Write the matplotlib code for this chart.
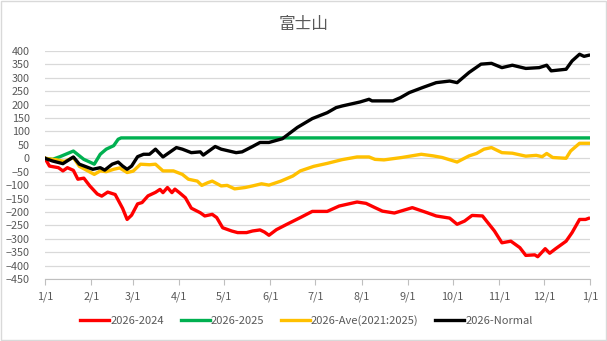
import numpy as np
import matplotlib.pyplot as plt
from matplotlib.patches import Rectangle

plt.rcParams['font.family'] = ['Noto Sans CJK JP', 'DejaVu Sans']

# day of year (0 = 1/1) and cumulative difference values
red_day = [0, 3, 9, 12, 15, 19, 22, 26, 30, 35, 38, 42, 47, 52, 55, 58, 62, 65, 69, 74,
           77, 79, 82, 85, 87, 90, 94, 98, 104, 107, 112, 115, 119, 125, 129, 135, 139,
           144, 147, 150, 155, 162, 171, 179, 189, 197, 209, 215, 221, 226, 234, 246,
           256, 262, 271, 276, 281, 286, 293, 296, 301, 306, 312, 318, 322, 328, 330,
           335, 338, 342, 349, 353, 358, 362, 364]
red_val = [0, -29, -35, -47, -35, -45, -78, -74, -103, -133, -141, -126, -135, -187,
           -228, -212, -170, -165, -140, -127, -116, -128, -109, -128, -115, -128, -147,
           -186, -203, -215, -209, -221, -259, -271, -277, -277, -271, -267, -275, -287,
           -266, -246, -221, -198, -198, -178, -163, -168, -184, -197, -204, -184, -203,
           -215, -223, -246, -234, -213, -215, -236, -271, -315, -309, -333, -362, -360,
           -367, -337, -354, -337, -309, -277, -228, -228, -224]

green_day = [0, 5, 10, 19, 26, 30, 33, 37, 41, 46, 49, 51, 364]
green_val = [0, -4, 6, 27, -4, -14, -22, 15, 34, 47, 71, 76, 76]

ave_day = [0, 8, 13, 19, 23, 33, 37, 41, 46, 50, 55, 59, 64, 70, 74, 79, 86, 92, 96, 102,
           105, 109, 112, 118, 122, 127, 134, 139, 145, 150, 158, 166, 171, 180, 189, 199,
           209, 217, 221, 227, 239, 252, 260, 266, 276, 284, 289, 294, 299, 306, 313, 322,
           329, 333, 336, 340, 349, 352, 358, 364]
ave_val = [0, -6, -12, 3, -30, -60, -47, -50, -41, -36, -53, -48, -22, -24, -22, -47, -47,
           -60, -78, -85, -101, -91, -85, -103, -101, -114, -109, -103, -95, -100, -85, -66,
           -47, -30, -19, -5, 5, 5, -4, -6, 3, 15, 9, 3, -14, 9, 18, 34, 40, 21, 19, 8, 11,
           6, 18, 3, 0, 27, 56, 56]

normal_day = [0, 5, 12, 19, 23, 32, 37, 40, 45, 49, 52, 55, 58, 62, 66, 70, 74, 79, 88, 92,
              98, 104, 106, 114, 118, 128, 132, 139, 144, 150, 159, 169, 179, 189, 195, 199,
              211, 217, 219, 233, 238, 244, 253, 262, 271, 276, 284, 292, 299, 306, 313,
              322, 331, 336, 339, 349, 353, 358, 361, 364]
normal_val = [0, -10, -20, 5, -22, -41, -35, -44, -22, -14, -29, -41, -29, 6, 15, 15, 34, 5,
              40, 34, 21, 24, 12, 44, 34, 21, 24, 44, 59, 59, 73, 115, 148, 170, 189, 195,
              210, 220, 214, 214, 226, 245, 264, 282, 288, 282, 320, 351, 354, 338, 347, 335,
              338, 347, 326, 332, 363, 388, 380, 384]

month_days = [0, 31, 59, 90, 120, 151, 181, 212, 243, 273, 304, 334, 365]
month_labels = ["1/1", "2/1", "3/1", "4/1", "5/1", "6/1", "7/1", "8/1", "9/1",
                "10/1", "11/1", "12/1", "1/1"]

fig = plt.figure(figsize=(6.07, 3.41), dpi=100)
ax = fig.add_axes([45 / 607, 1 - 279 / 341, 545 / 607, 228 / 341])

lw = 2.4
ax.plot(red_day, red_val, color="#FF0000", lw=lw, label="2026-2024")
ax.plot(green_day, green_val, color="#00B050", lw=lw, label="2026-2025")
ax.plot(ave_day, ave_val, color="#FFC000", lw=lw, label="2026-Ave(2021:2025)")
ax.plot(normal_day, normal_val, color="#000000", lw=lw, label="2026-Normal")

ax.set_xlim(0, 365)
ax.set_ylim(-450, 400)
ax.set_yticks(np.arange(-450, 401, 50))
ax.set_xticks(month_days)
ax.set_xticklabels(month_labels)
ax.grid(axis="y", color="#D9D9D9", lw=0.9)
ax.set_axisbelow(True)
for s in ["top", "right", "left"]:
    ax.spines[s].set_visible(False)
ax.spines["bottom"].set_color("#BFBFBF")
ax.tick_params(axis="y", length=0, pad=11, labelsize=7.8, labelcolor="#595959")
ax.tick_params(axis="x", length=4, color="#BFBFBF", pad=5, labelsize=7.8,
               labelcolor="#595959")

fig.text(0.5, 1 - 24 / 341, "富士山", ha="center", va="center", fontsize=12,
         color="#595959")

fig.legend(loc="center", bbox_to_anchor=(0.505, 1 - 321 / 341), ncol=4, frameon=False,
           fontsize=8, handlelength=2.6, handletextpad=0.1, columnspacing=1.5,
           labelcolor="#595959")

fig.patches.append(Rectangle((0.001, 0.002), 0.997, 0.995, transform=fig.transFigure,
                             fill=False, edgecolor="#D9D9D9", lw=1))

fig.savefig("out.png", dpi=100)
